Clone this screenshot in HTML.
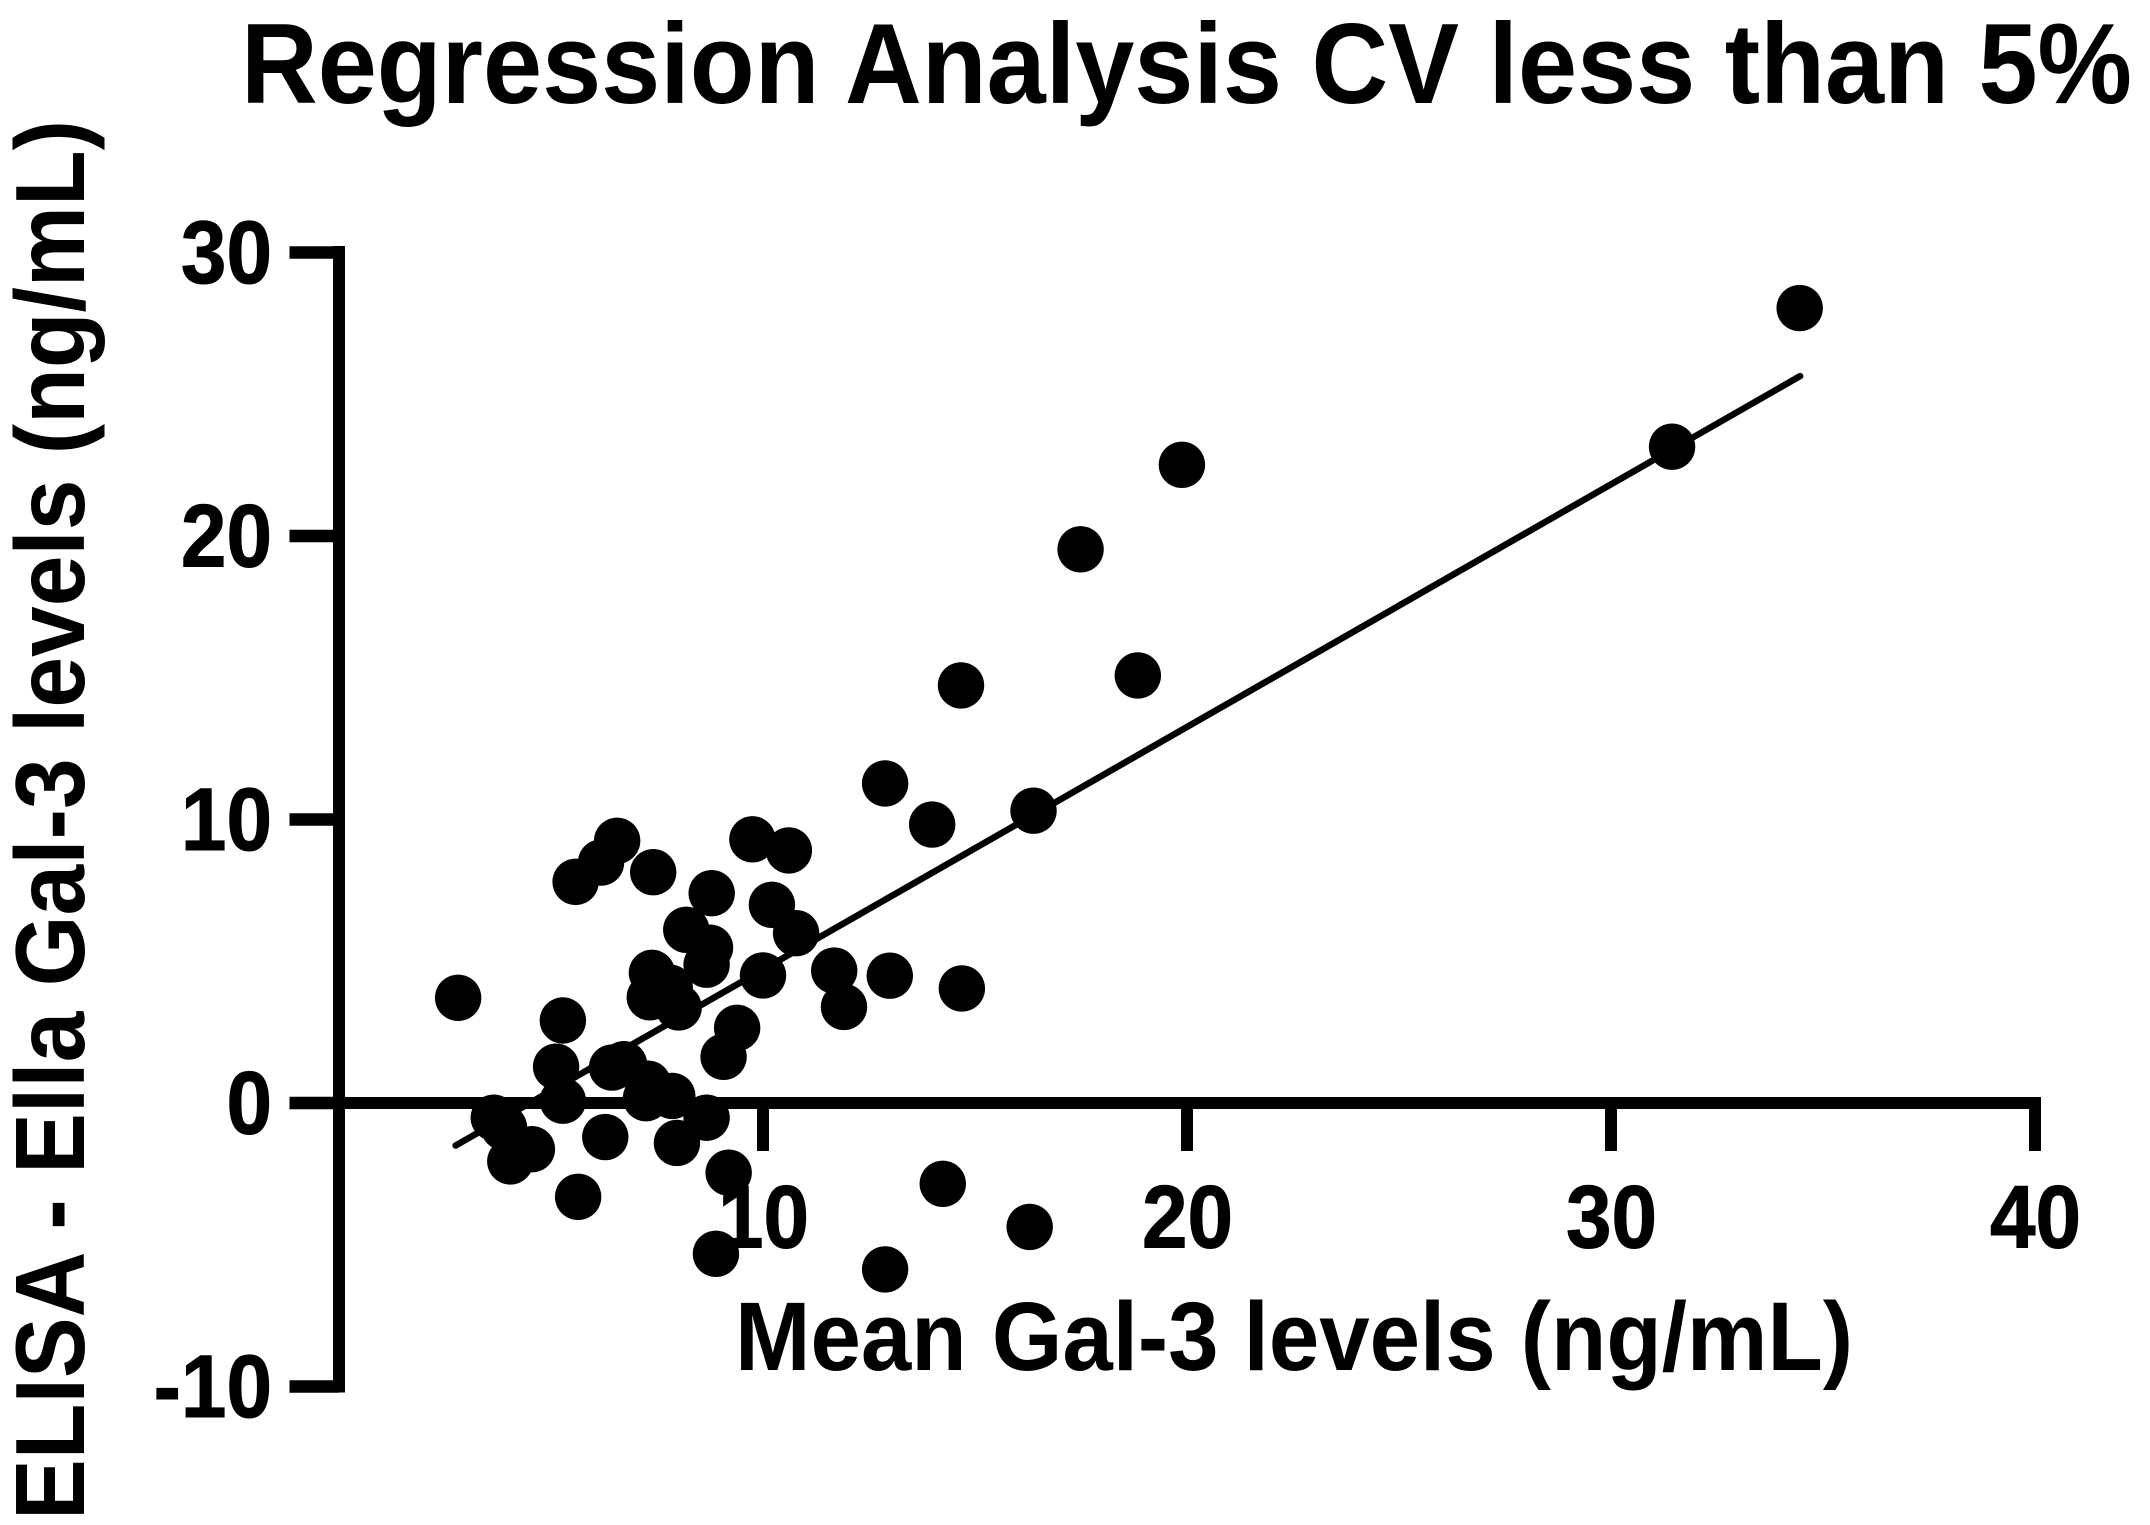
<!DOCTYPE html>
<html lang="en">
<head>
<meta charset="utf-8">
<title>Regression Analysis CV less than 5%</title>
<style>
  html, body { margin: 0; padding: 0; background: #fff; }
  svg { display: block; }
  text { font-family: "Liberation Sans", Arial, sans-serif; font-weight: bold; fill: #000; }
</style>
</head>
<body>
<svg id="chart" xmlns="http://www.w3.org/2000/svg" width="2150" height="1525" viewBox="0 0 2150 1525">
  <rect x="0" y="0" width="2150" height="1525" fill="#fff"/>
  <text x="241" y="103" font-size="114" textLength="1891" lengthAdjust="spacingAndGlyphs">Regression Analysis CV less than 5%</text>
  <text x="735" y="1370" font-size="97" textLength="1118" lengthAdjust="spacingAndGlyphs">Mean Gal-3 levels (ng/mL)</text>
  <text transform="translate(84,1520) rotate(-90)" x="0" y="0" font-size="98" textLength="1400" lengthAdjust="spacingAndGlyphs">ELISA - Ella Gal-3 levels (ng/mL)</text>
  <g id="axes"></g>
  <g id="fit"></g>
  <g id="points"></g>
</svg>
<script>
const xTicks = [10, 20, 30, 40];
const yTicks = [-10, 0, 10, 20, 30];
const xTickLabels = ["10", "20", "30", "40"];
const yTickLabels = ["-10", "0", "10", "20", "30"];

const meanValues = [12.88, 13.99, 16.38, 6.56, 6.18, 5.58, 7.41, 9.75, 10.61, 8.79, 10.21, 10.78, 8.19, 8.75, 8.67, 10.0, 7.38, 11.68, 12.99, 14.69, 11.91, 2.81, 7.80, 7.33, 8.01, 9.39, 9.07, 5.28, 5.12, 6.44, 6.72, 5.28, 7.29, 7.24, 7.86, 8.67, 3.65, 3.89, 4.55, 4.04, 6.28, 7.97, 9.19, 5.64, 8.89, 12.88, 14.24, 16.29, 34.45, 31.44, 19.88, 17.49, 18.84, 14.67];
const diffValues = [11.27, 9.82, 10.31, 9.25, 8.48, 7.80, 8.14, 9.30, 8.91, 7.40, 6.99, 5.99, 6.11, 5.48, 4.88, 4.50, 4.59, 4.67, 4.49, 4.04, 3.39, 3.71, 4.07, 3.73, 3.37, 2.65, 1.63, 2.91, 1.28, 1.25, 1.37, 0.08, 0.68, 0.17, 0.25, -0.52, -0.52, -0.86, -1.63, -2.06, -1.20, -1.41, -2.46, -3.31, -5.32, -5.87, -2.85, -4.37, 28.04, 23.15, 22.51, 19.53, 15.08, 14.73];

const fitX = [2.75, 34.46];
const fitY = [-1.50, 25.64];

const NS = "http://www.w3.org/2000/svg";
function xScale(v) { return 339 + v * 42.4; }
function yScale(v) { return 1103 - v * 28.35; }

function make(parent, tag) {
  const el = document.createElementNS(NS, tag);
  parent.appendChild(el);
  return el;
}

function box(parent, x, y, w, h) {
  const r = make(parent, "rect");
  r.setAttribute("x", x);
  r.setAttribute("y", y);
  r.setAttribute("width", w);
  r.setAttribute("height", h);
  r.setAttribute("fill", "#000");
  return r;
}

const axes = document.getElementById("axes");

const yAxisLine = box(axes, 333, yScale(30) - 6.5, 12, yScale(-10) - yScale(30) + 12.5);



const xAxisLine = box(axes, 339, yScale(0) - 6, xScale(40) + 6 - 339, 12);



yTicks.forEach(function (v, i) {
  const t = box(axes, 289.5, yScale(v) - 6.25, 49.5, 12.5);
  
  
  const lab = make(axes, "text");
  
  
  lab.setAttribute("transform", "translate(272," + (yScale(v) + 30.5) + ") scale(0.92,1)");
  lab.setAttribute("text-anchor", "end");
  lab.setAttribute("font-size", "89");
  lab.setAttribute("stroke", "#000");
  lab.setAttribute("stroke-width", "1");
  lab.textContent = yTickLabels[i];
});

xTicks.forEach(function (v, i) {
  const t = box(axes, xScale(v) - 6, 1103, 12, 48);
  
  
  const lab = make(axes, "text");
  
  
  lab.setAttribute("transform", "translate(" + (xScale(v) + 0.5) + ",1247.5) scale(0.92,1)");
  lab.setAttribute("text-anchor", "middle");
  lab.setAttribute("font-size", "89");
  lab.setAttribute("stroke", "#000");
  lab.setAttribute("stroke-width", "1");
  lab.textContent = xTickLabels[i];
});

const fitLine = make(document.getElementById("fit"), "line");


fitLine.setAttribute("x1", xScale(fitX[0]));
fitLine.setAttribute("y1", yScale(fitY[0]));
fitLine.setAttribute("x2", xScale(fitX[1]));
fitLine.setAttribute("y2", yScale(fitY[1]));
fitLine.setAttribute("stroke", "#000");
fitLine.setAttribute("stroke-width", "6.5");
fitLine.setAttribute("stroke-linecap", "round");

const pointsGroup = document.getElementById("points");
meanValues.forEach(function (m, i) {
  const c = make(pointsGroup, "circle");
  
  
  c.setAttribute("cx", xScale(m));
  c.setAttribute("cy", yScale(diffValues[i]));
  c.setAttribute("r", "23.2");
  c.setAttribute("fill", "#000");
});
</script>
</body>
</html>
